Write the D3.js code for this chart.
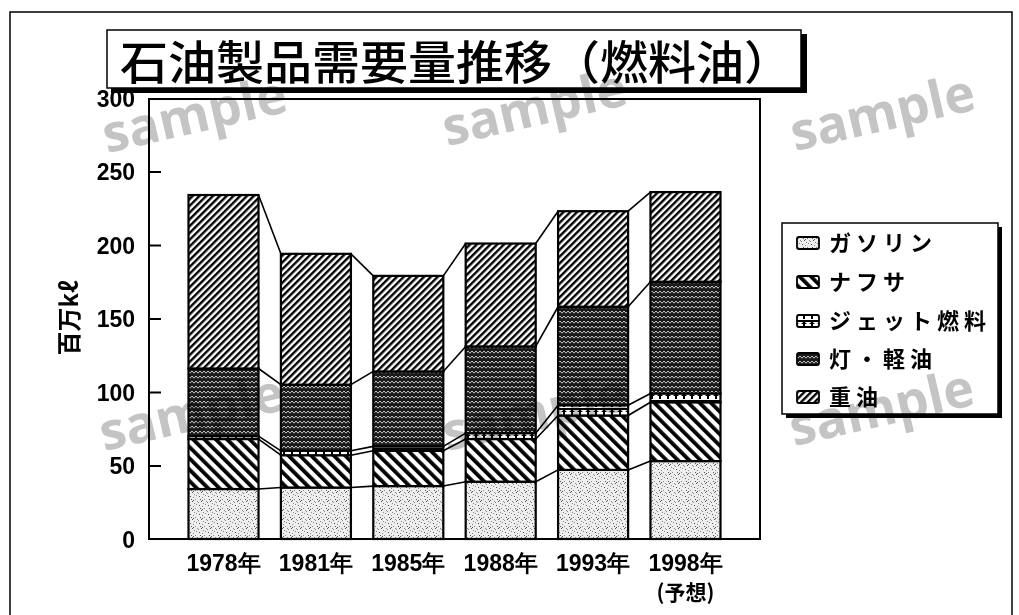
<!DOCTYPE html>
<html><head><meta charset="utf-8">
<script src="https://cdn.jsdelivr.net/npm/d3@7/dist/d3.min.js"></script>
<style>
body{margin:0;background:#fff;}
svg{display:block;}
</style></head>
<body>
<svg id="chart" width="1019" height="615"></svg>
<script>
// ---- data ----
const years = ["1978年","1981年","1985年","1988年","1993年","1998年"];
const seriesNames = ["ガソリン","ナフサ","ジェット燃料","灯・軽油","重油"];
const gasoline = [34,35,36,39,47,53];
const naphtha  = [34,22,24,29,37,40];
const jetFuel  = [2,3,3,4,7,6];
const kerosene = [46,45,51,59,67,76];
const heavyOil = [118,89,65,70,65,61];
const yTicks = [0,50,100,150,200,250,300];
const titleText = "石油製品需要量推移（燃料油）";
const yLabel = "百万kℓ";
const noteText = "(予想)";

const seriesValues = [gasoline,naphtha,jetFuel,kerosene,heavyOil];
const keys = ["gas","nap","jet","ker","hev"];
const patIds = ["pGas","pNap","pJet","pKer","pHev"];
const table = years.map((y,i)=>{const o={year:y};keys.forEach((k,j)=>o[k]=seriesValues[j][i]);return o;});
const stacked = d3.stack().keys(keys)(table);

const svg = d3.select("#chart");
const jp = "'Noto Sans CJK JP','Noto Sans',sans-serif";
const num = "'Liberation Sans Narrow','Liberation Sans','DejaVu Sans Condensed',sans-serif";

// ---- patterns ----
const defs = svg.append("defs");
const pg = defs.append("pattern").attr("id","pGas").attr("patternUnits","userSpaceOnUse").attr("width",9).attr("height",9);
pg.append("rect").attr("width",9).attr("height",9).attr("fill","#eeeeee");
[[1,1],[4,2],[7,0],[2,4],[6,4],[0,7],[3,6],[5,8],[8,6],[4,5]].forEach(([x,y],i)=>
  pg.append("rect").attr("x",x).attr("y",y).attr("width",1).attr("height",1).attr("fill",i%3?"#8a8a8a":"#555"));
const pn = defs.append("pattern").attr("id","pNap").attr("patternUnits","userSpaceOnUse").attr("width",8).attr("height",8).attr("patternTransform","rotate(-45)");
pn.append("rect").attr("width",8).attr("height",8).attr("fill","#fff");
pn.append("rect").attr("x",0).attr("width",3.8).attr("height",8).attr("fill","#000");
const ph = defs.append("pattern").attr("id","pHev").attr("patternUnits","userSpaceOnUse").attr("width",4.8).attr("height",4.8).attr("patternTransform","rotate(45)");
ph.append("rect").attr("width",4.8).attr("height",4.8).attr("fill","#fff");
ph.append("rect").attr("x",0).attr("width",2.4).attr("height",4.8).attr("fill","#000");
const pk = defs.append("pattern").attr("id","pKer").attr("patternUnits","userSpaceOnUse").attr("width",4).attr("height",5);
pk.append("rect").attr("width",4).attr("height",5).attr("fill","#1a1a1a");
pk.append("path").attr("d","M0,1 L2,3.2 L4,1").attr("fill","none").attr("stroke","#d8d8d8").attr("stroke-width",0.9);
const pj = defs.append("pattern").attr("id","pJet").attr("patternUnits","userSpaceOnUse").attr("width",8).attr("height",8);
pj.append("rect").attr("width",8).attr("height",8).attr("fill","#fff");
pj.append("rect").attr("y",0).attr("width",8).attr("height",2).attr("fill","#000");
pj.append("rect").attr("x",3).attr("y",2).attr("width",2).attr("height",5).attr("fill","#000");
pj.append("path").attr("d","M1,4 L4,1.5 L7,4Z").attr("fill","#000");

// ---- outer frame ----
svg.append("rect").attr("x",10).attr("y",12).attr("width",1002).attr("height",620)
  .attr("fill","none").attr("stroke","#000").attr("stroke-width",1.5);

// ---- scales ----
const x = d3.scaleBand().domain(years).range([149,760]).paddingInner(0.242).paddingOuter(0.4275);
const y = d3.scaleLinear().domain([0,300]).range([539,98]);
const bw = x.bandwidth();

svg.append("rect").attr("x",149).attr("y",y(300)+1).attr("width",760-149).attr("height",y(0)-y(300)-1)
  .attr("fill","#fff").attr("stroke","#000").attr("stroke-width",2);

const ax = svg.append("g").attr("transform","translate(149,0)")
  .call(d3.axisLeft(y).tickValues(yTicks).tickSize(-12).tickPadding(14));
ax.select(".domain").remove();
ax.selectAll(".tick line").attr("stroke","#000").attr("stroke-width",2);
ax.selectAll(".tick text").attr("font-family",num).attr("font-weight","bold")
  .attr("font-size",23).attr("fill","#000").attr("dy","0.36em");
ax.selectAll(".tick").filter(d=>d===0||d===300).select("line").remove();

// connecting lines
const lineG = svg.append("g");
stacked.forEach(layer=>{
  for(let i=0;i<years.length-1;i++){
    lineG.append("line")
      .attr("x1",x(years[i])+bw).attr("y1",y(layer[i][1]))
      .attr("x2",x(years[i+1])).attr("y2",y(layer[i+1][1]))
      .attr("stroke","#000").attr("stroke-width",1.6);
  }
});

// bars
stacked.forEach((layer,j)=>{
  svg.append("g").selectAll("rect").data(layer).join("rect")
    .attr("x",d=>x(d.data.year)).attr("width",bw)
    .attr("y",d=>y(d[1])).attr("height",d=>y(d[0])-y(d[1]))
    .attr("fill",`url(#${patIds[j]})`).attr("stroke","#000").attr("stroke-width",2.2);
});

// x labels
svg.append("g").selectAll("text").data(years).join("text")
  .attr("x",d=>x(d)+bw/2).attr("y",571).attr("text-anchor","middle")
  .attr("font-family",num).attr("font-weight","bold").attr("font-size",23).text(d=>d);
svg.append("text").attr("x",x(years[5])+bw/2).attr("y",600).attr("text-anchor","middle")
  .attr("font-family",jp).attr("font-weight","bold").attr("font-size",21).text(noteText);

// y label
svg.append("text").attr("transform","translate(78,318) rotate(-90)").attr("text-anchor","middle")
  .attr("font-family",jp).attr("font-weight","bold").attr("font-size",24).text(yLabel);

// title box
svg.append("rect").attr("x",111).attr("y",34).attr("width",696).attr("height",59).attr("fill","#000");
svg.append("rect").attr("x",107).attr("y",30).attr("width",694).attr("height",58).attr("fill","#fff").attr("stroke","#000").attr("stroke-width",1.5);
svg.append("text").attr("x",120).attr("y",79).attr("font-family",jp).attr("font-weight",500)
  .attr("font-size",46).attr("textLength",672).attr("lengthAdjust","spacingAndGlyphs").text(titleText);

// legend
const lg = svg.append("g");
lg.append("rect").attr("x",786).attr("y",227).attr("width",216).attr("height",191).attr("fill","#000");
lg.append("rect").attr("x",782).attr("y",223).attr("width",216).attr("height",191).attr("fill","#fff").attr("stroke","#000").attr("stroke-width",1.5);
const rowsY = [243,282,321,359,397];
seriesNames.forEach((n,i)=>{
  lg.append("rect").attr("x",797).attr("y",rowsY[i]-6).attr("width",22).attr("height",12).attr("rx",2)
    .attr("fill",`url(#${patIds[i]})`).attr("stroke","#000").attr("stroke-width",1.8);
  lg.append("text").attr("x",829).attr("y",rowsY[i]).attr("dy","0.36em")
    .attr("font-family",jp).attr("font-weight","bold").attr("font-size",22).attr("letter-spacing",5).text(n);
});

// watermarks
const wm = [[195,117],[535,110],[883,115],[192,415],[535,415],[882,410]];
svg.append("g").selectAll("text").data(wm).join("text")
  .attr("transform",d=>`translate(${d[0]},${d[1]}) rotate(-13)`).attr("text-anchor","middle").attr("dy","0.3em")
  .attr("font-family","'Open Sans',sans-serif").attr("font-weight","bold").attr("font-size",52)
  .attr("fill","#c4c4c4").style("mix-blend-mode","multiply").text("sample");
</script>
</body></html>
